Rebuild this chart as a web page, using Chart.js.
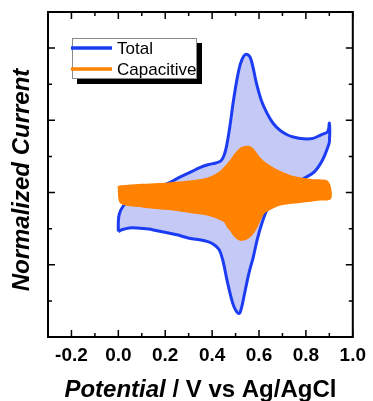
<!DOCTYPE html>
<html>
<head>
<meta charset="utf-8">
<script src="https://cdn.jsdelivr.net/npm/chart.js@4/dist/chart.umd.min.js"></script>
<style>
  html, body { margin: 0; padding: 0; background: #ffffff; }
  #wrap { width: 373px; height: 401px; }
</style>
</head>
<body>
<div id="wrap"><canvas id="cv" width="373" height="401"></canvas></div>
<script>
// Cyclic voltammogram: total current vs. capacitive contribution (normalized)
const totalPotential = [
  0.000, 0.000, 0.004, 0.018, 0.050, 0.100, 0.150, 0.214, 0.260, 0.312, 0.350, 0.382, 0.415, 0.438,
  0.452, 0.462, 0.475, 0.490, 0.505, 0.520, 0.535, 0.547, 0.562, 0.575, 0.590, 0.610, 0.634, 0.660,
  0.690, 0.720, 0.746, 0.790, 0.830, 0.865, 0.893, 0.900,
  0.900, 0.893, 0.871, 0.837, 0.794, 0.750, 0.700, 0.660, 0.634, 0.610, 0.592, 0.575, 0.557, 0.536,
  0.525, 0.515, 0.500, 0.487, 0.466, 0.445, 0.430, 0.410, 0.382, 0.340, 0.298, 0.250, 0.214, 0.160,
  0.130, 0.080, 0.046, 0.015, 0.000
];
const totalCurrent = [
  -1.08, -0.80, -0.60, -0.40, -0.18, 0.00, 0.12, 0.26, 0.42, 0.58, 0.70, 0.77, 0.82, 0.88,
  1.05, 1.30, 1.80, 2.50, 3.10, 3.55, 3.78, 3.83, 3.75, 3.45, 3.00, 2.55, 2.20, 1.92,
  1.72, 1.60, 1.54, 1.49, 1.50, 1.60, 1.69, 1.92,
  1.40, 1.25, 0.90, 0.58, 0.40, 0.22, 0.00, -0.25, -0.48, -0.90, -1.31, -1.80, -2.23, -2.87,
  -3.20, -3.35, -3.25, -3.05, -2.50, -1.86, -1.58, -1.45, -1.36, -1.30, -1.26, -1.17, -1.12, -1.05,
  -1.01, -0.98, -0.98, -1.03, -1.08
];

const capPotential = [
  0.000, 0.100, 0.214, 0.300, 0.382, 0.430, 0.470, 0.500, 0.520, 0.540, 0.560, 0.575, 0.595, 0.620,
  0.662, 0.700, 0.746, 0.830, 0.893,
  0.905, 0.860, 0.800, 0.740, 0.690, 0.650, 0.620, 0.605, 0.592, 0.575, 0.555, 0.535, 0.515, 0.495,
  0.480, 0.465, 0.452, 0.420, 0.382, 0.300, 0.242, 0.170, 0.102, 0.011, 0.000
];
const capCurrent = [
  0.17, 0.22, 0.26, 0.31, 0.40, 0.55, 0.82, 1.08, 1.22, 1.27, 1.27, 1.20, 1.02, 0.85,
  0.67, 0.55, 0.44, 0.35, 0.30,
  -0.16, -0.20, -0.25, -0.29, -0.34, -0.45, -0.57, -0.75, -0.94, -1.12, -1.25, -1.31, -1.30, -1.20,
  -1.06, -0.94, -0.80, -0.70, -0.62, -0.54, -0.48, -0.44, -0.39, -0.29, 0.17
];

const xTickLabels = [-0.2, 0.0, 0.2, 0.4, 0.6, 0.8, 1.0];
const xMinorTicks = [-0.1, 0.1, 0.3, 0.5, 0.7, 0.9];
const yMajorTicks = [-2, 0, 2, 4];
const yMinorTicks = [-3, -1, 1, 3];

const seriesNames = ['Total', 'Capacitive'];
const xTitleParts = ['Potential', ' / V vs Ag/AgCl'];
const yTitle = 'Normalized Current';

const FONT = '"Liberation Sans", Arial, Helvetica, sans-serif';
const BLUE = '#1b3cf2';
const BLUE_FILL = '#c4c9f6';
const ORANGE = '#ff8200';

const toPoints = (xs, ys) => xs.map((x, i) => ({ x: x, y: ys[i] }));

// Frame, inward tick marks, axis titles and the boxed legend
const decorations = {
  id: 'decorations',
  afterDraw(chart) {
    const { ctx, chartArea: a, scales } = chart;
    const xs = scales.x, ys = scales.y;
    ctx.save();
    ctx.strokeStyle = '#000';
    ctx.lineWidth = 1.5;
    const major = 7, minor = 4;
    const vTick = (v, len) => {
      const px = xs.getPixelForValue(v);
      ctx.beginPath();
      ctx.moveTo(px, a.bottom); ctx.lineTo(px, a.bottom - len);
      ctx.moveTo(px, a.top); ctx.lineTo(px, a.top + len);
      ctx.stroke();
    };
    const hTick = (v, len) => {
      const py = ys.getPixelForValue(v);
      ctx.beginPath();
      ctx.moveTo(a.left, py); ctx.lineTo(a.left + len, py);
      ctx.moveTo(a.right, py); ctx.lineTo(a.right - len, py);
      ctx.stroke();
    };
    xTickLabels.forEach(v => vTick(v, major));
    xMinorTicks.forEach(v => vTick(v, minor));
    yMajorTicks.forEach(v => hTick(v, major));
    yMinorTicks.forEach(v => hTick(v, minor));

    ctx.lineWidth = 2;
    ctx.strokeRect(a.left, a.top, a.right - a.left, a.bottom - a.top);

    // x title: italic quantity, upright unit
    ctx.fillStyle = '#000';
    ctx.textBaseline = 'alphabetic';
    ctx.textAlign = 'left';
    const f1 = 'italic bold 24px ' + FONT;
    const f2 = 'bold 24px ' + FONT;
    ctx.font = f1; const w1 = ctx.measureText(xTitleParts[0]).width;
    ctx.font = f2; const w2 = ctx.measureText(xTitleParts[1]).width;
    const cx = (a.left + a.right) / 2;
    const sx = cx - (w1 + w2) / 2;
    ctx.font = f1; ctx.fillText(xTitleParts[0], sx, 397);
    ctx.font = f2; ctx.fillText(xTitleParts[1], sx + w1, 397);

    // y title
    ctx.save();
    ctx.translate(22, 180);
    ctx.rotate(-Math.PI / 2);
    ctx.font = 'italic bold 24px ' + FONT;
    ctx.textAlign = 'center';
    ctx.textBaseline = 'middle';
    ctx.fillText(yTitle, 0, 0);
    ctx.restore();

    // legend box with drop shadow
    const bx = 72, by = 38, bw = 125, bh = 41;
    ctx.fillStyle = '#000';
    ctx.fillRect(bx + 5, by + 5, bw, bh);
    ctx.fillStyle = '#fff';
    ctx.fillRect(bx, by, bw, bh);
    ctx.strokeStyle = '#8a8a8a';
    ctx.lineWidth = 1;
    ctx.strokeRect(bx + 0.5, by + 0.5, bw - 1, bh - 1);
    const colors = [BLUE, ORANGE];
    const rows = [48, 69];
    ctx.font = '17px ' + FONT;
    ctx.textAlign = 'left';
    ctx.textBaseline = 'middle';
    seriesNames.forEach((name, i) => {
      ctx.strokeStyle = colors[i];
      ctx.lineWidth = 3.5;
      ctx.beginPath();
      ctx.moveTo(bx - 1, rows[i]); ctx.lineTo(bx + 40, rows[i]);
      ctx.stroke();
      ctx.fillStyle = '#000';
      ctx.fillText(name, bx + 45, rows[i] + 1);
    });
    ctx.restore();
  }
};

new Chart(document.getElementById('cv'), {
  type: 'scatter',
  data: {
    datasets: [
      {
        label: seriesNames[0],
        data: toPoints(totalPotential, totalCurrent),
        showLine: true,
        borderColor: BLUE,
        borderWidth: 3,
        backgroundColor: BLUE_FILL,
        fill: 'shape',
        tension: 0.35,
        pointRadius: 0,
        order: 2
      },
      {
        label: seriesNames[1],
        data: toPoints(capPotential, capCurrent),
        showLine: true,
        borderColor: ORANGE,
        borderWidth: 1.5,
        backgroundColor: ORANGE,
        fill: 'shape',
        tension: 0.3,
        pointRadius: 0,
        order: 1
      }
    ]
  },
  plugins: [decorations],
  options: {
    responsive: false,
    animation: false,
    devicePixelRatio: 1,
    layout: { padding: { left: 0, top: 12, right: 16, bottom: 0 } },
    plugins: { legend: { display: false }, tooltip: { enabled: false } },
    scales: {
      x: {
        type: 'linear',
        min: -0.3,
        max: 1.0,
        grid: { display: false, drawTicks: false },
        border: { display: false },
        afterBuildTicks: s => { s.ticks = xTickLabels.map(v => ({ value: v })); },
        afterFit: s => { s.height = 64; },
        ticks: {
          autoSkip: false,
          maxRotation: 0,
          padding: 7,
          color: '#000',
          font: { family: FONT, size: 19, weight: 'bold' },
          callback: v => Number(v).toFixed(1)
        }
      },
      y: {
        type: 'linear',
        min: -4,
        max: 5,
        grid: { display: false, drawTicks: false },
        border: { display: false },
        afterFit: s => { s.width = 48; },
        ticks: { display: false }
      }
    }
  }
});
</script>
</body>
</html>
